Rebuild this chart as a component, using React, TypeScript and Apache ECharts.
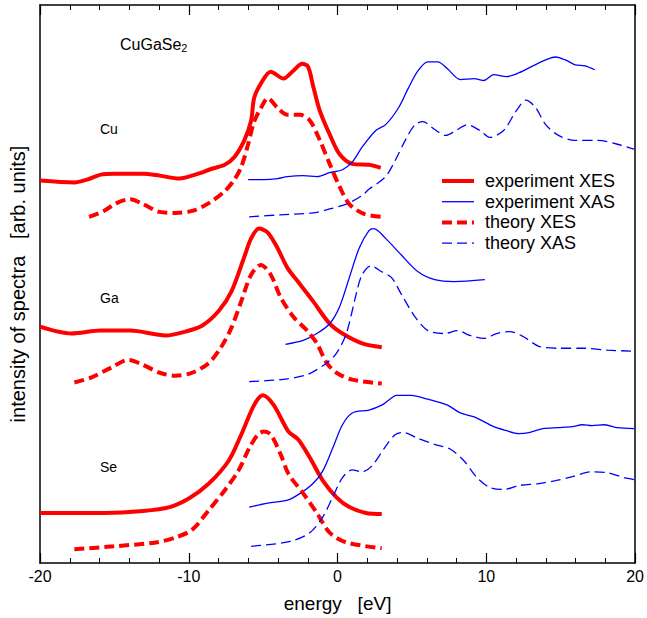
import React, { useEffect, useRef } from "react";
import * as echarts from "echarts";

// energies (eV) and intensities (arb. units, offset per element)
const cuExpXesE = [-20, -17.69, -16.83, -15.91, -15.05, -13.07, -11.95, -10.63, -9.57, -8.45, -7.59, -6.93, -6.27, -5.81, -5.61, -5.15, -4.49, -3.63, -2.97, -2.38, -1.98, -1.65, -1.19, -0.53, 0.13, 0.99, 2.11, 2.9];
const cuExpXesI = [390, 388, 391, 396, 397, 397, 395, 392, 396, 402, 406, 414, 431, 451, 474, 489, 501, 494, 502, 509, 506, 487, 461, 437, 417, 407, 406, 403];
const cuThXesE = [-16.7, -15.71, -14.85, -13.93, -13.07, -11.95, -10.89, -9.77, -8.65, -7.59, -6.93, -6.47, -6.01, -5.61, -5.15, -4.69, -4.03, -3.37, -2.51, -1.85, -1.19, -0.53, 0.13, 0.79, 1.78, 2.97];
const cuThXesI = [353, 359, 367, 371, 366, 358, 357, 359, 367, 379, 391, 404, 427, 450, 464, 474, 464, 457, 457, 451, 431, 407, 384, 366, 356, 353];
const cuExpXasE = [-6.01, -4.95, -4.03, -3.37, -2.31, -1.39, -0.53, 0.33, 0.99, 1.65, 2.57, 3.23, 4.09, 4.75, 5.41, 6.07, 6.73, 7.39, 8.25, 9.18, 9.84, 10.5, 11.35, 12.21, 13.14, 13.99, 14.65, 15.31, 15.97, 16.63, 17.29];
const cuExpXasI = [391, 391, 392, 394, 395, 394, 398, 401, 409, 424, 441, 447, 464, 484, 502, 511, 511, 504, 493, 494, 492, 498, 496, 500, 507, 513, 516, 513, 508, 507, 503];
const cuThXasE = [-5.94, -3.83, -1.65, -0.53, 0.59, 1.58, 2.11, 3.23, 3.89, 4.55, 5.21, 5.74, 6.53, 7.26, 8.05, 8.71, 9.57, 10.23, 11.16, 12.01, 12.67, 13.33, 13.99, 14.85, 15.97, 17.49, 18.81, 19.93];
const cuThXasI = [353, 355, 357, 361, 366, 374, 381, 394, 411, 431, 447, 450, 442, 436, 442, 447, 441, 434, 441, 461, 472, 464, 447, 436, 431, 431, 427, 422];

const gaExpXesE = [-20, -17.89, -15.91, -13.93, -11.55, -10.23, -9.11, -7.99, -7.13, -6.27, -5.81, -5.28, -4.69, -4.03, -3.37, -2.51, -1.65, -0.53, 0.33, 1.65, 2.97];
const gaExpXesI = [241, 234, 237, 237, 232, 236, 242, 257, 277, 312, 331, 341, 337, 321, 301, 284, 267, 244, 234, 224, 220];
const gaThXesE = [-17.69, -16.57, -15.25, -14.06, -13.07, -11.95, -10.89, -9.77, -8.65, -7.79, -7.13, -6.47, -5.81, -5.15, -4.49, -3.83, -2.97, -2.05, -1.39, -0.73, -0.07, 0.99, 2.97];
const gaThXesI = [184, 189, 199, 207, 202, 194, 191, 194, 204, 221, 240, 267, 294, 304, 294, 271, 251, 237, 224, 204, 194, 187, 183];
const gaExpXasE = [-3.5, -2.31, -1.39, -0.53, 0.13, 0.79, 1.45, 2.11, 2.44, 3.23, 4.29, 5.41, 6.53, 7.85, 9.9];
const gaExpXasI = [223, 227, 234, 244, 261, 291, 321, 339, 341, 331, 314, 297, 289, 287, 289];
const gaThXasE = [-5.94, -3.83, -2.05, -0.73, -0.07, 0.59, 1.25, 1.65, 2.24, 2.97, 3.63, 4.29, 5.21, 6.07, 7.19, 8.05, 8.91, 9.84, 10.69, 11.55, 12.47, 13.53, 14.85, 16.63, 18.15, 19.93];
const gaThXasI = [185, 187, 192, 204, 214, 234, 274, 294, 303, 297, 291, 274, 251, 237, 234, 237, 232, 229, 234, 236, 231, 221, 219, 219, 217, 216];

const seExpXesE = [-20, -15.71, -13.07, -11.29, -9.97, -8.65, -7.33, -6.47, -5.61, -5.02, -4.29, -3.3, -2.64, -1.85, -0.99, -0.07, 0.79, 1.91, 2.97];
const seExpXesI = [51, 51, 53, 57, 66, 81, 104, 131, 161, 171, 161, 134, 126, 107, 84, 67, 57, 51, 50];
const seThXesE = [-17.69, -15.05, -12.21, -10.89, -9.77, -8.65, -7.59, -6.67, -5.94, -5.35, -4.95, -4.49, -3.83, -3.3, -2.31, -1.39, -0.53, 0.59, 2.97];
const seThXesI = [14, 17, 21, 26, 34, 54, 74, 94, 117, 131, 134, 131, 111, 91, 71, 51, 31, 21, 15];
const seExpXasE = [-5.94, -4.69, -3.37, -2.51, -1.65, -0.99, -0.33, 0.33, 0.99, 2.11, 2.97, 3.43, 3.96, 4.95, 6.07, 7.39, 8.25, 9.18, 10.5, 11.35, 12.15, 12.87, 13.8, 14.85, 15.78, 16.44, 17.1, 17.95, 18.81, 19.93];
const seExpXasI = [57, 61, 64, 71, 81, 94, 117, 141, 153, 156, 161, 166, 171, 171, 167, 161, 153, 149, 139, 135, 132, 133, 137, 138, 139, 141, 140, 141, 138, 137];
const seThXasE = [-5.81, -3.17, -1.85, -0.99, -0.33, 0.33, 0.99, 1.65, 2.31, 3.23, 3.89, 4.42, 5.41, 6.53, 7.59, 8.51, 9.37, 10.23, 11.16, 12.21, 13.53, 14.65, 15.78, 17.1, 18.15, 19.27, 19.93];
const seThXasI = [17, 22, 31, 47, 67, 87, 95, 93, 99, 119, 131, 133, 127, 121, 116, 104, 87, 77, 75, 79, 81, 84, 88, 93, 92, 87, 85];

const xTicks = [-20, -10, 0, 10, 20];
const elementLabels = ["Cu", "Ga", "Se"];
const legendNames = ["experiment XES", "experiment XAS", "theory XES", "theory XAS"];

const zip = (e: number[], v: number[]) => e.map((x, i) => [x, v[i]]);

const RED = "#ff0000";
const BLUE = "#0000ff";
const FONT = "Liberation Sans, Arial, sans-serif";

const styles: Record<string, any> = {
  "experiment XES": { color: RED, width: 4, type: "solid" },
  "experiment XAS": { color: BLUE, width: 1.3, type: "solid" },
  "theory XES": { color: RED, width: 4, type: [10, 5] },
  "theory XAS": { color: BLUE, width: 1.3, type: [10, 5] },
};

const mk = (name: string, e: number[], v: number[]) => ({
  type: "line",
  name,
  data: zip(e, v),
  smooth: 0.3,
  showSymbol: false,
  symbol: "none",
  color: styles[name].color,
  lineStyle: { ...styles[name], cap: "butt" },
  xAxisIndex: 0,
  yAxisIndex: 0,
});

export default function App() {
  const ref = useRef<HTMLDivElement>(null);
  useEffect(() => {
    if (!ref.current) return;
    const chart = echarts.init(ref.current, null, { renderer: "svg" });
    const axisLine = { show: true, onZero: false, lineStyle: { color: "#000", width: 1.5 } };
    const legendGraphics: any[] = [];
    legendNames.forEach((n, i) => {
      const y = 181 + i * 20.7;
      const s = styles[n];
      legendGraphics.push({
        type: "line",
        shape: { x1: 442, y1: y, x2: 474, y2: y },
        style: {
          stroke: s.color,
          lineWidth: s.width,
          lineDash: Array.isArray(s.type) ? s.type : null,
        },
      });
      legendGraphics.push({
        type: "text",
        x: 485,
        y,
        style: { text: n, fill: "#000", font: `18px ${FONT}`, verticalAlign: "middle", align: "left" },
      });
    });
    chart.setOption({
      animation: false,
      backgroundColor: "#fff",
      grid: { left: 35, top: 5, width: 606, height: 569, containLabel: false },
      xAxis: [
        {
          type: "value",
          min: -20,
          max: 20,
          interval: 10,
          position: "bottom",
          axisLine,
          axisTick: { show: true, inside: true, length: 10, lineStyle: { color: "#000", width: 1.2 } },
          minorTick: { show: true, splitNumber: 5, length: 5, lineStyle: { color: "#000", width: 1 } },
          axisLabel: {
            color: "#000",
            fontSize: 16,
            fontFamily: FONT,
            margin: 5,
            formatter: (v: number) => (xTicks.includes(v) ? String(v) : ""),
          },
          splitLine: { show: false },
          name: "energy   [eV]",
          nameLocation: "middle",
          nameGap: 31,
          nameTextStyle: { color: "#000", fontSize: 19, fontFamily: FONT },
        },
        {
          type: "value",
          min: -20,
          max: 20,
          interval: 10,
          position: "top",
          axisLine,
          axisTick: { show: true, inside: true, length: 10, lineStyle: { color: "#000", width: 1.2 } },
          minorTick: { show: true, splitNumber: 5, length: 5, lineStyle: { color: "#000", width: 1 } },
          axisLabel: { show: false },
          splitLine: { show: false },
        },
      ],
      yAxis: [
        {
          type: "value",
          min: 0,
          max: 569,
          position: "left",
          axisLine,
          axisTick: { show: false },
          axisLabel: { show: false },
          splitLine: { show: false },
          name: "intensity of spectra   [arb. units]",
          nameLocation: "middle",
          nameGap: 12,
          nameRotate: 90,
          nameTextStyle: { color: "#000", fontSize: 20, fontFamily: FONT },
        },
        {
          type: "value",
          min: 0,
          max: 569,
          position: "right",
          axisLine,
          axisTick: { show: false },
          axisLabel: { show: false },
          splitLine: { show: false },
        },
      ],
      graphic: [
        {
          type: "text",
          left: 120,
          top: 36,
          style: {
            text: "CuGaSe{sub|2}",
            fill: "#000",
            font: `16px ${FONT}`,
            rich: { sub: { fontSize: 11, fontFamily: FONT, verticalAlign: "bottom", padding: [8, 0, 0, 0] } },
          },
        },
        ...elementLabels.map((t, i) => ({
          type: "text",
          left: 100,
          top: 122 + i * 169,
          style: { text: t, fill: "#000", font: `14px ${FONT}` },
        })),
        ...legendGraphics,
      ],
      series: [
        mk("experiment XES", cuExpXesE, cuExpXesI),
        mk("experiment XAS", cuExpXasE, cuExpXasI),
        mk("theory XES", cuThXesE, cuThXesI),
        mk("theory XAS", cuThXasE, cuThXasI),
        mk("experiment XES", gaExpXesE, gaExpXesI),
        mk("experiment XAS", gaExpXasE, gaExpXasI),
        mk("theory XES", gaThXesE, gaThXesI),
        mk("theory XAS", gaThXasE, gaThXasI),
        mk("experiment XES", seExpXesE, seExpXesI),
        mk("experiment XAS", seExpXasE, seExpXasI),
        mk("theory XES", seThXesE, seThXesI),
        mk("theory XAS", seThXasE, seThXasI),
      ],
    });
    return () => chart.dispose();
  }, []);
  return <div ref={ref} style={{ position: "absolute", left: 0, top: 0, width: 647, height: 618 }} />;
}
